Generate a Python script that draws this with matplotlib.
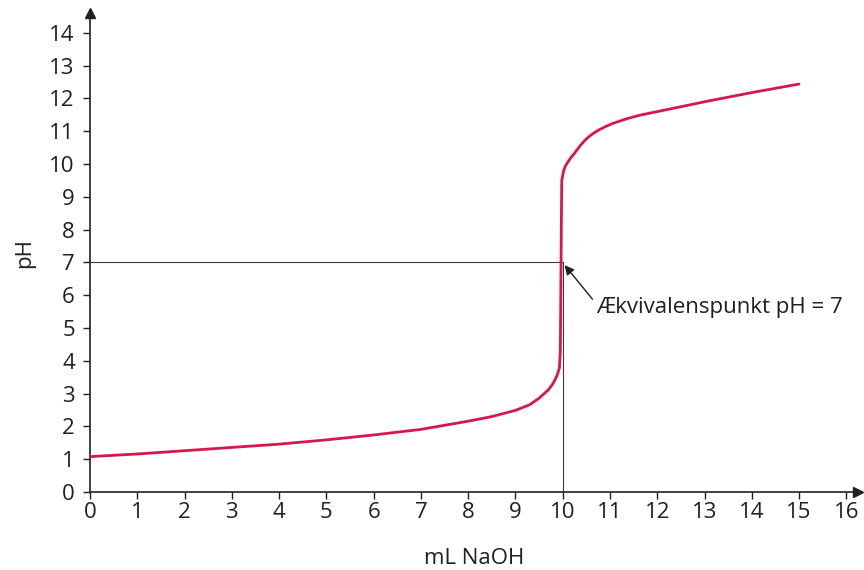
import matplotlib
matplotlib.use("Agg")
import matplotlib.pyplot as plt

plt.rcParams["font.family"] = ["Open Sans", "DejaVu Sans"]

# titration curve
ml_naoh = [0, 1, 2, 3, 4, 5, 6, 7, 8, 8.5, 9, 9.3, 9.5, 9.7, 9.8, 9.88, 9.93, 9.95,
           9.96, 9.97, 9.98, 10.02, 10.06, 10.15, 10.25, 10.38, 10.5, 10.63, 10.75,
           10.9, 11.06, 11.35, 11.63, 12.0, 12.47, 13.0, 14.0, 15.0]
ph = [1.08, 1.16, 1.26, 1.36, 1.46, 1.59, 1.74, 1.91, 2.16, 2.3, 2.49, 2.66, 2.86,
      3.12, 3.32, 3.55, 3.78, 4.3, 6.0, 8.0, 9.5, 9.8, 9.95, 10.15, 10.33, 10.58,
      10.77, 10.92, 11.03, 11.14, 11.24, 11.38, 11.49, 11.6, 11.74, 11.9, 12.18, 12.44]

eq_x = 10
eq_ph = 7
x_ticks = list(range(0, 17))
y_ticks = list(range(0, 15))
note = "Ækvivalenspunkt pH = 7"

fig = plt.figure(figsize=(8.64, 5.70), dpi=100)
ax = fig.add_axes([0.1042, 0.1368, 0.889, 0.840])
ax.set_xlim(0, 16.25)
ax.set_ylim(0, 14.6)

dark = "#231f20"
ax.plot([0, eq_x], [eq_ph, eq_ph], color="#3a3a3a", lw=0.8, zorder=2)
ax.plot([eq_x, eq_x], [0, eq_ph], color="#3a3a3a", lw=0.8, zorder=2)
ax.plot(ml_naoh, ph, color="#d6174a", lw=2.0, solid_capstyle="round",
        solid_joinstyle="round", zorder=3)

for s in ["top", "right"]:
    ax.spines[s].set_visible(False)
for s in ["left", "bottom"]:
    ax.spines[s].set_color(dark)
    ax.spines[s].set_linewidth(1.2)
ax.plot(1, 0, ">", color=dark, ms=7, transform=ax.transAxes, clip_on=False)
ax.plot(0, 1, "^", color=dark, ms=7, transform=ax.transAxes, clip_on=False)

ax.set_xticks(x_ticks)
ax.set_yticks(y_ticks)
ax.tick_params(direction="out", length=5, width=1.0, color=dark,
               labelsize=16, labelcolor=dark)
ax.tick_params(axis="x", pad=2)
ax.tick_params(axis="y", pad=6)

ax.set_xlabel("mL NaOH", fontsize=16, color=dark, labelpad=18)
ax.set_ylabel("pH", fontsize=16, color=dark, labelpad=10)

ax.annotate("", xy=(eq_x + 0.04, eq_ph - 0.08), xytext=(10.63, 5.88),
            arrowprops=dict(arrowstyle="-|>", color=dark, lw=1.0,
                            mutation_scale=14, shrinkA=0, shrinkB=0))
ax.text(10.7, 5.62, note, fontsize=16, color=dark, va="center", ha="left")

fig.savefig("out.png", dpi=100)
